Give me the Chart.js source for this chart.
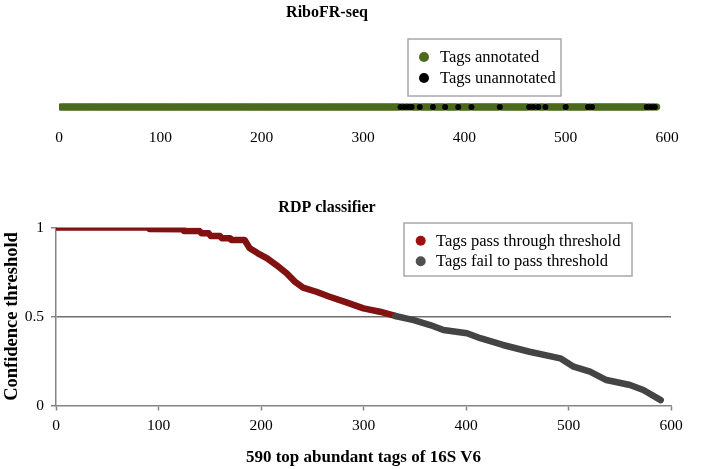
<!DOCTYPE html>
<html><head><meta charset="utf-8">
<script src="https://cdn.jsdelivr.net/npm/chart.js@4.4.0/dist/chart.umd.min.js"></script>
<style>
html,body{margin:0;padding:0;background:#fff;}
#wrap{position:relative;width:704px;height:469px;overflow:hidden;background:#fff;}
#c1{position:absolute;left:0;top:0;}
#c2{position:absolute;left:0;top:190px;}
</style></head><body>
<div id="wrap">
<canvas id="c1" width="704" height="150"></canvas>
<canvas id="c2" width="704" height="279"></canvas>
</div>
<script>
// ---------- data ----------
const topTitle = 'RiboFR-seq';
const bottomTitle = 'RDP classifier';
const xAxisTitle = '590 top abundant tags of 16S V6';
const yAxisTitle = 'Confidence threshold';
const topSeriesNames = ['Tags annotated', 'Tags unannotated'];
const bottomSeriesNames = ['Tags pass through threshold', 'Tags fail to pass threshold'];
const tagCount = 590;
// ranks of tags without annotation (RiboFR-seq)
const unannotatedRanks = [337, 341, 345, 348, 356, 369, 381, 394, 407, 435, 464, 468, 473, 480, 500, 522, 526, 580, 584, 588];
// RDP confidence curve (rank, confidence)
const passRanks = [1, 90, 91, 124, 125, 140, 142, 149, 151, 160, 162, 170, 171, 184, 189, 197, 206, 215, 225, 233, 241, 254, 267, 284, 300, 316, 331];
const passConf  = [1.0, 1.0, 0.992, 0.99, 0.98, 0.98, 0.967, 0.967, 0.952, 0.952, 0.939, 0.939, 0.93, 0.93, 0.883, 0.855, 0.827, 0.789, 0.743, 0.696, 0.662, 0.639, 0.611, 0.578, 0.546, 0.527, 0.503];
const failRanks = [331, 349, 365, 378, 401, 414, 436, 462, 492, 505, 521, 537, 560, 573, 590];
const failConf  = [0.503, 0.48, 0.452, 0.424, 0.406, 0.378, 0.34, 0.302, 0.265, 0.218, 0.19, 0.143, 0.115, 0.087, 0.03];
const xTickValues = [0, 100, 200, 300, 400, 500, 600];
const yTickLabels = {0: '0', 0.5: '0.5', 1: '1'};

// ---------- styles ----------
const SERIF = "'Liberation Serif', 'Times New Roman', serif";
const GREEN = '#4c6a1c';
const BLACK = '#000000';
const RED = '#801212';
const GRAY = '#444444';
const AXIS = '#858585';

const allRanks = [];
for (let r = 1; r <= tagCount; r++) allRanks.push(r);
const annotatedRanks = allRanks.filter(r => !unannotatedRanks.includes(r));

const boxLegend = {
  id: 'boxLegend',
  afterDraw(chart, args, o) {
    if (!o || !o.items) return;
    const ctx = chart.ctx;
    ctx.save();
    ctx.fillStyle = '#fff';
    ctx.fillRect(o.x, o.y, o.w, o.h);
    ctx.strokeStyle = '#a8a8a8';
    ctx.lineWidth = 1.5;
    ctx.strokeRect(o.x, o.y, o.w, o.h);
    ctx.font = o.fontSize + 'px ' + SERIF;
    ctx.textBaseline = 'middle';
    ctx.textAlign = 'left';
    o.items.forEach((it, i) => {
      const cy = o.rows[i];
      ctx.beginPath();
      ctx.fillStyle = it.color;
      ctx.arc(o.cx, cy, o.r, 0, Math.PI * 2);
      ctx.fill();
      ctx.fillStyle = '#000';
      ctx.fillText(it.text, o.tx, cy + 0.5);
    });
    ctx.restore();
  }
};
const titleShift = {
  id: 'titleShift',
  afterLayout(chart, args, o) {
    if (chart.titleBlock && o && o.right) {
      chart.titleBlock.left = o.left;
      chart.titleBlock.right = o.right;
    }
  }
};

// ---------- top chart ----------
new Chart(document.getElementById('c1'), {
  type: 'scatter',
  plugins: [boxLegend, titleShift],
  data: {
    datasets: [
      { label: topSeriesNames[1], data: unannotatedRanks.map(r => ({x: r, y: 0})),
        backgroundColor: BLACK, borderColor: BLACK, pointRadius: 3, borderWidth: 0, order: 0 },
      { label: topSeriesNames[0], data: annotatedRanks.map(r => ({x: r, y: 0})),
        backgroundColor: GREEN, borderColor: GREEN, pointRadius: 3.4, borderWidth: 0, order: 1 }
    ]
  },
  options: {
    responsive: false, animation: false, devicePixelRatio: 1,
    layout: { padding: { left: 59, right: 37, top: 0, bottom: 0 } },
    plugins: {
      legend: { display: false }, tooltip: { enabled: false },
      title: { display: true, text: topTitle, color: '#000',
        font: { family: SERIF, size: 16, weight: 'bold' }, padding: { top: 3.4, bottom: 74.4 } },
      titleShift: { left: 0, right: 654 },
      boxLegend: { x: 408, y: 39, w: 153, h: 57, cx: 424, tx: 440, r: 5, fontSize: 16.5,
        rows: [57, 78],
        items: [{ text: topSeriesNames[0], color: GREEN }, { text: topSeriesNames[1], color: BLACK }] }
    },
    scales: {
      x: { type: 'linear', min: 0, max: 600,
        afterBuildTicks: s => { s.ticks = xTickValues.map(v => ({ value: v })); },
        ticks: { color: '#000', font: { family: SERIF, size: 15.5 }, padding: 3.7, maxRotation: 0 },
        grid: { display: false }, border: { display: false },
        afterFit: s => { s.height = 33; } },
      y: { display: false, min: -1, max: 1 }
    }
  }
});

// ---------- bottom chart ----------
new Chart(document.getElementById('c2'), {
  type: 'scatter',
  plugins: [boxLegend, titleShift],
  data: {
    datasets: [
      { label: bottomSeriesNames[0], data: passRanks.map((r, i) => ({x: r, y: passConf[i]})),
        showLine: true, borderColor: RED, backgroundColor: RED, borderWidth: 6.5, pointRadius: 0,
        borderCapStyle: 'round', borderJoinStyle: 'round', tension: 0, order: 1 },
      { label: bottomSeriesNames[1], data: failRanks.map((r, i) => ({x: r, y: failConf[i]})),
        showLine: true, borderColor: GRAY, backgroundColor: GRAY, borderWidth: 6.5, pointRadius: 0,
        borderCapStyle: 'round', borderJoinStyle: 'round', tension: 0, order: 0 }
    ]
  },
  options: {
    responsive: false, animation: false, devicePixelRatio: 1,
    layout: { padding: { left: 0, right: 33, top: 0, bottom: 0 } },
    plugins: {
      legend: { display: false }, tooltip: { enabled: false },
      title: { display: true, text: bottomTitle, color: '#000',
        font: { family: SERIF, size: 16, weight: 'bold' }, padding: { top: 8.4, bottom: 9.9 } },
      titleShift: { left: 0, right: 654 },
      boxLegend: { x: 404, y: 33, w: 228, h: 53, cx: 420.7, tx: 436, r: 5, fontSize: 16.5,
        rows: [50.7, 71.3],
        items: [{ text: bottomSeriesNames[0], color: '#a00f0f' }, { text: bottomSeriesNames[1], color: '#505050' }] }
    },
    scales: {
      x: { type: 'linear', min: 0, max: 600,
        afterBuildTicks: s => { s.ticks = xTickValues.map(v => ({ value: v })); },
        ticks: { color: '#000', font: { family: SERIF, size: 15.5 }, padding: 6.4, maxRotation: 0 },
        grid: { drawOnChartArea: false, tickLength: 5, tickColor: AXIS, tickWidth: 1.5 },
        border: { color: AXIS, width: 1.5 },
        title: { display: true, text: xAxisTitle, color: '#000',
          font: { family: SERIF, size: 17, weight: 'bold' }, padding: { top: 0, bottom: 1.5 } },
        afterFit: s => { s.height = 63.5; } },
      y: { min: 0, max: 1,
        afterBuildTicks: s => { s.ticks = Object.keys(yTickLabels).map(v => ({ value: +v })); },
        ticks: { color: '#000', font: { family: SERIF, size: 15.5 }, padding: 7,
          callback: v => yTickLabels[v] },
        grid: { color: c => (c.tick && c.tick.value === 0.5) ? '#6f6f6f' : 'rgba(0,0,0,0)',
          lineWidth: 1.5, tickLength: 5, tickColor: AXIS, tickWidth: 1.5 },
        border: { color: AXIS, width: 1.5 },
        title: { display: true, text: yAxisTitle, color: '#000',
          font: { family: SERIF, size: 18.5, weight: 'bold' }, padding: { top: 1, bottom: 0 } },
        afterFit: s => { s.width = 56; } }
    }
  }
});
</script>
</body></html>
